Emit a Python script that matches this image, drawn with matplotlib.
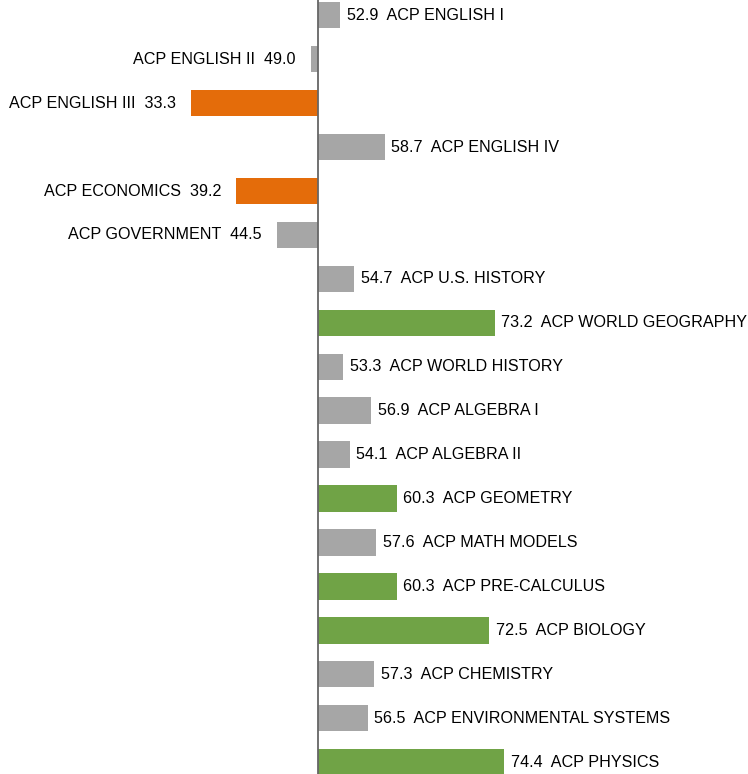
import matplotlib
matplotlib.use("Agg")
import matplotlib.pyplot as plt

courses = ["ACP ENGLISH I", "ACP ENGLISH II", "ACP ENGLISH III", "ACP ENGLISH IV",
           "ACP ECONOMICS", "ACP GOVERNMENT", "ACP U.S. HISTORY", "ACP WORLD GEOGRAPHY",
           "ACP WORLD HISTORY", "ACP ALGEBRA I", "ACP ALGEBRA II", "ACP GEOMETRY",
           "ACP MATH MODELS", "ACP PRE-CALCULUS", "ACP BIOLOGY", "ACP CHEMISTRY",
           "ACP ENVIRONMENTAL SYSTEMS", "ACP PHYSICS"]
scores = [52.9, 49.0, 33.3, 58.7, 39.2, 44.5, 54.7, 73.2, 53.3, 56.9, 54.1, 60.3,
          57.6, 60.3, 72.5, 57.3, 56.5, 74.4]
status = ["mid", "mid", "low", "mid", "low", "mid", "mid", "high", "mid", "mid", "mid",
          "high", "mid", "high", "high", "mid", "mid", "high"]
baseline = 50.0

palette = {"low": "#E46C0A", "mid": "#A6A6A6", "high": "#70A346"}

plt.rcParams['font.family'] = ['Liberation Sans', 'DejaVu Sans']

fig = plt.figure(figsize=(7.48, 7.74), dpi=100)
ax = fig.add_axes([0, 0, 1, 1])

ypos = list(range(len(courses)))
widths = [s - baseline for s in scores]
ax.barh(ypos, widths, left=baseline, height=0.6,
        color=[palette[s] for s in status], zorder=2)

for y, s, c in zip(ypos, scores, courses):
    if s >= baseline:
        ax.annotate(f"{s:.1f}  {c}", xy=(s, y), xytext=(4.8, 0), textcoords="offset points",
                    ha="left", va="center", fontsize=11.6, color="#000000")
    else:
        ax.annotate(f"{c}  {s:.1f}", xy=(s, y), xytext=(-11, 0), textcoords="offset points",
                    ha="right", va="center", fontsize=11.6, color="#000000")

ax.axvline(baseline, color="#666666", lw=1.3, zorder=3)

ax.set_xlim(baseline - 318.4 / 7.6, baseline + (748 - 318.4) / 7.6)
ax.set_ylim(17.27, -0.348)
ax.axis("off")

fig.savefig("out.png", dpi=100)
